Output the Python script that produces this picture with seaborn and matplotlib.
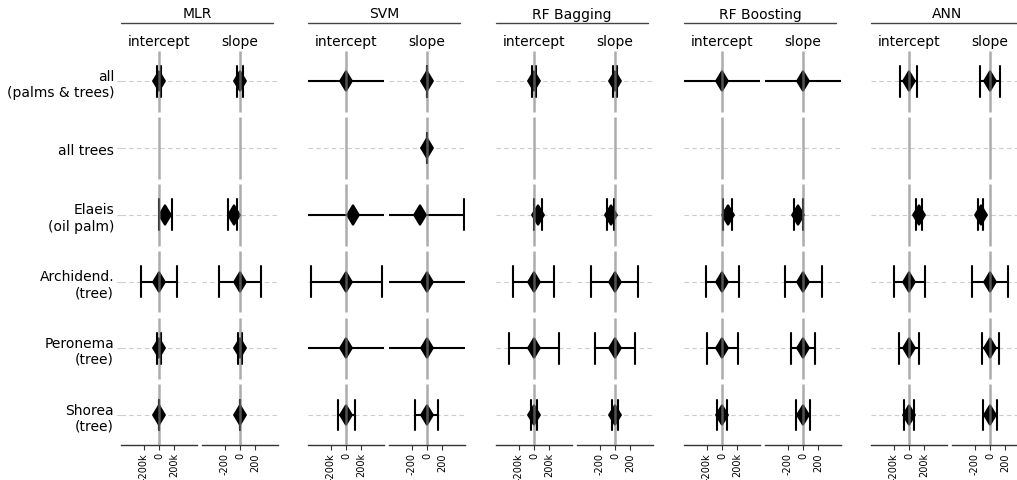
import numpy as np
import pandas as pd
import matplotlib
matplotlib.use("Agg")
import matplotlib.pyplot as plt
from matplotlib.lines import Line2D
import seaborn as sns

nan = np.nan

rows = ["all\n(palms & trees)", "all trees", "Elaeis\n(oil palm)",
        "Archidend.\n(tree)", "Peronema\n(tree)", "Shorea\n(tree)"]
methods = ["MLR", "SVM", "RF Bagging", "RF Boosting", "ANN"]
params = ["intercept", "slope"]

int_ticks = [-200000, 0, 200000]
int_ticklabels = ["-200k", "0", "200k"]
slope_ticks = [-200, 0, 200]
slope_ticklabels = ["-200", "0", "200"]

# MLR
mlr_int_est = [0, nan, 80e3, 0, 0, 0]
mlr_int_lo = [-30e3, nan, 0, -235e3, -28e3, -5e3]
mlr_int_hi = [30e3, nan, 165e3, 240e3, 28e3, 5e3]
mlr_slope_est = [0, nan, -78, 0, 0, 0]
mlr_slope_lo = [-35, nan, -158, -275, -25, -5]
mlr_slope_hi = [40, nan, -35, 275, 25, 5]

# SVM
svm_int_est = [0, nan, 97e3, 0, 0, 0]
svm_int_lo = [-800e3, nan, -800e3, -466e3, -800e3, -111e3]
svm_int_hi = [800e3, nan, 800e3, 471e3, 800e3, 115e3]
svm_slope_est = [0, 0, -89, 0, 0, 0]
svm_slope_lo = [-5, -5, -800, -800, -800, -164]
svm_slope_hi = [5, 5, 484, 800, 800, 151]

# RF Bagging
rfbag_int_est = [0, nan, 55e3, 0, 0, 0]
rfbag_int_lo = [-25e3, nan, 5e3, -275e3, -330e3, -33e3]
rfbag_int_hi = [25e3, nan, 100e3, 266e3, 324e3, 33e3]
rfbag_slope_est = [0, nan, -55, 0, 0, 0]
rfbag_slope_lo = [-30, nan, -100, -311, -258, -35]
rfbag_slope_hi = [30, nan, -10, 298, 258, 35]

# RF Boosting
rfboo_int_est = [0, nan, 80e3, 0, 0, 0]
rfboo_int_lo = [-800e3, nan, 9e3, -213e3, -200e3, -70e3]
rfboo_int_hi = [800e3, nan, 138e3, 218e3, 204e3, 70e3]
rfboo_slope_est = [0, nan, -67, 0, 0, 0]
rfboo_slope_lo = [-800, nan, -120, -240, -164, -92]
rfboo_slope_hi = [800, nan, -5, 249, 164, 90]

# ANN
ann_int_est = [0, nan, 133e3, 0, 0, 0]
ann_int_lo = [-115e3, nan, 98e3, -200e3, -133e3, -67e3]
ann_int_hi = [107e3, nan, 169e3, 204e3, 133e3, 71e3]
ann_slope_est = [0, nan, -120, 0, 0, 0]
ann_slope_lo = [-129, nan, -160, -231, -111, -93]
ann_slope_hi = [129, nan, -89, 235, 115, 93]

series = {
    ("MLR", "intercept"): (mlr_int_est, mlr_int_lo, mlr_int_hi),
    ("MLR", "slope"): (mlr_slope_est, mlr_slope_lo, mlr_slope_hi),
    ("SVM", "intercept"): (svm_int_est, svm_int_lo, svm_int_hi),
    ("SVM", "slope"): (svm_slope_est, svm_slope_lo, svm_slope_hi),
    ("RF Bagging", "intercept"): (rfbag_int_est, rfbag_int_lo, rfbag_int_hi),
    ("RF Bagging", "slope"): (rfbag_slope_est, rfbag_slope_lo, rfbag_slope_hi),
    ("RF Boosting", "intercept"): (rfboo_int_est, rfboo_int_lo, rfboo_int_hi),
    ("RF Boosting", "slope"): (rfboo_slope_est, rfboo_slope_lo, rfboo_slope_hi),
    ("ANN", "intercept"): (ann_int_est, ann_int_lo, ann_int_hi),
    ("ANN", "slope"): (ann_slope_est, ann_slope_lo, ann_slope_hi),
}

sns.set_style("white")
plt.rcParams["font.family"] = ["DejaVu Sans"]
plt.rcParams["text.color"] = "black"
plt.rcParams["axes.labelcolor"] = "black"
plt.rcParams["xtick.color"] = "black"
plt.rcParams["ytick.color"] = "black"

W, H = 1017, 481
fig = plt.figure(figsize=(W / 100, H / 100), dpi=100)

group_left = [121, 308, 496, 684, 871]
ax_w = 76
slope_off = 81
y_top, y_bot = 51.7, 445.7
n = len(rows)

for gi, method in enumerate(methods):
    gl = group_left[gi]
    # header
    fig.text((gl + 76) / W, 1 - 14.5 / H, method, ha="center", va="center",
             fontsize=10, color="black")
    fig.add_artist(Line2D([gl / W, (gl + 152) / W], [1 - 23.5 / H] * 2,
                          color="#444444", lw=1.0))
    for pi, param in enumerate(params):
        left = gl + pi * slope_off
        ax = fig.add_axes([left / W, (H - y_bot) / H, ax_w / W, (y_bot - y_top) / H])
        est, lo, hi = series[(method, param)]
        recs = []
        for r, e, l, h in zip(rows, est, lo, hi):
            for v in (l, e, h):
                recs.append({"row": r, "value": v})
        df = pd.DataFrame(recs)
        sns.pointplot(data=df, x="value", y="row", order=rows, orient="y",
                      estimator="median", errorbar=("pi", 100), capsize=0.46,
                      color="black", markers="d", linestyle="none",
                      markersize=10.5, markeredgewidth=1.3,
                      err_kws={"linewidth": 1.5, "color": "black"}, ax=ax)
        ax.set_ylim(n - 1 + 0.445, -0.46)
        if param == "intercept":
            ax.set_xlim(-500000, 500000)
            ax.set_xticks(int_ticks)
            ax.set_xticklabels(int_ticklabels, rotation=90, fontsize=7)
        else:
            ax.set_xlim(-500, 500)
            ax.set_xticks(slope_ticks)
            ax.set_xticklabels(slope_ticklabels, rotation=90, fontsize=7)
        ypos = np.arange(n)
        ax.vlines(np.zeros(n), ypos - 0.46, ypos + 0.46, color="gray", alpha=0.65,
                  lw=1.8, zorder=6)
        ax.set_axisbelow(True)
        ax.grid(axis="y", color="#cccccc", linestyle=(0, (4, 3)), lw=0.8)
        ax.grid(axis="x", visible=False)
        for s in ["top", "right", "left"]:
            ax.spines[s].set_visible(False)
        ax.spines["bottom"].set_color("#333333")
        ax.spines["bottom"].set_linewidth(1.0)
        ax.tick_params(axis="x", bottom=True, length=3.5, width=0.8,
                       color="#333333", labelcolor="black", pad=2, labelsize=7)
        ax.set_xlabel("")
        ax.set_ylabel("")
        ax.set_title(param, fontsize=10, pad=4, color="black")
        if gi == 0 and pi == 0:
            ax.tick_params(axis="y", left=True, length=3, color="#cccccc",
                           labelcolor="black", pad=2, labelsize=10)
        else:
            ax.tick_params(axis="y", left=False, labelleft=False)

fig.savefig("out.png", dpi=100)
